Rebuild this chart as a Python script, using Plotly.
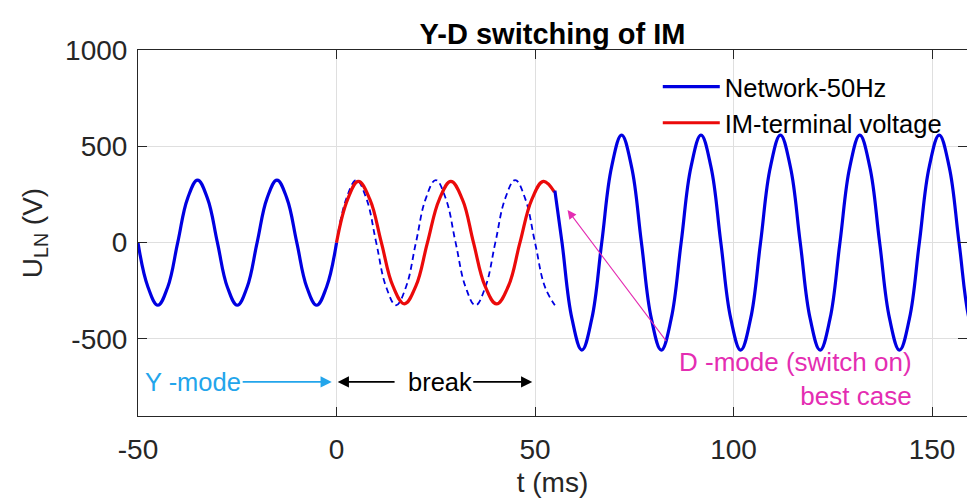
import plotly.graph_objects as go

# ---- data (t in ms, U in V) ----
t_pre = [-50, -47.5, -45, -42.5, -40, -37.5, -35, -32.5, -30, -27.5, -25, -22.5,
         -20, -17.5, -15, -12.5, -10, -7.5, -5, -2.5, 0]
u_pre = [0, -230, -325, -230, 0, 230, 325, 230, 0, -230, -325, -230,
         0, 230, 325, 230, 0, -230, -325, -230, 0]

t_net_dash = [0, 2.5, 5, 7.5, 10, 12.5, 15, 17.5, 20, 22.5, 25, 27.5, 30, 32.5,
              35, 37.5, 40, 42.5, 45, 47.5, 50, 52.5, 55]
u_net_dash = [0, 230, 325, 230, 0, -230, -325, -230, 0, 230, 325, 230, 0, -230,
              -325, -230, 0, 230, 325, 230, 0, -230, -325]

t_im = [0, 2.8, 5.5, 8.4, 11.3, 14.2, 17.1, 20.0, 22.9, 25.9, 28.8, 31.7, 34.5,
        37.4, 40.3, 43.3, 46.2, 49.2, 52.1, 54.9]
u_im = [0, 225, 318, 225, 0, -225, -318, -225, 0, 225, 318, 225, 0,
        -225, -318, -225, 0, 225, 318, 262]

t_post = [55, 56.8, 59.3, 61.8, 64.3, 66.8, 69.3, 71.8, 74.3, 76.8, 79.3, 81.8,
          84.3, 86.8, 89.3, 91.8, 94.3, 96.8, 99.3, 101.8, 104.3, 106.8, 109.3,
          111.8, 114.3, 116.8, 119.3, 121.8, 124.3, 126.8, 129.3, 131.8, 134.3,
          136.8, 139.3, 141.8, 144.3, 146.8, 149.3, 151.8, 154.3, 156.8, 159.3,
          161.8]
u_post = [270, 0, -395, -558, -395, 0, 395, 558, 395, 0, -395, -558,
          -395, 0, 395, 558, 395, 0, -395, -558, -395, 0, 395,
          558, 395, 0, -395, -558, -395, 0, 395, 558, 395,
          0, -395, -558, -395, 0, 395, 558, 395, 0, -395,
          -558]

x_ticks = [-50, 0, 50, 100, 150]
x_labels = ["-50", "0", "50", "100", "150"]
y_ticks = [-500, 0, 500, 1000]
y_labels = ["-500", "0", "500", "1000"]

BLUE = "rgb(0,0,225)"
RED = "rgb(235,10,10)"
CYAN = "rgb(35,165,235)"
MAGENTA = "rgb(228,45,178)"
AX = "#262626"
FONT = "Liberation Sans, Arial, Helvetica, sans-serif"
SM = 1.15

fig = go.Figure()
fig.add_trace(go.Scatter(x=t_net_dash, y=u_net_dash, mode="lines", showlegend=False,
                         line=dict(color=BLUE, width=1.8, dash="6px,4px",
                                   shape="spline", smoothing=SM)))
fig.add_trace(go.Scatter(x=t_pre, y=u_pre, mode="lines", name="Network-50Hz",
                         legendgroup="net",
                         line=dict(color=BLUE, width=3.2, shape="spline", smoothing=SM)))
fig.add_trace(go.Scatter(x=t_im, y=u_im, mode="lines", name="IM-terminal voltage",
                         line=dict(color=RED, width=3.2, shape="spline", smoothing=SM)))
fig.add_trace(go.Scatter(x=t_post, y=u_post, mode="lines", showlegend=False,
                         legendgroup="net",
                         line=dict(color=BLUE, width=3.2, shape="spline", smoothing=SM)))

ann = []
# Y-mode text with arrow
ann.append(dict(x=-1.2, y=-723, ax=-36.1, ay=-723, axref="x", ayref="y",
                text="Y -mode", showarrow=True, arrowhead=2, arrowsize=1.4,
                arrowwidth=1.6, arrowcolor=CYAN, standoff=0, startstandoff=0,
                font=dict(size=25.5, color=CYAN)))
# break text with right arrow
ann.append(dict(x=49.3, y=-723, ax=26.0, ay=-723, axref="x", ayref="y",
                text="break", showarrow=True, arrowhead=2, arrowsize=1.4,
                arrowwidth=1.6, arrowcolor="black", standoff=0, startstandoff=0,
                font=dict(size=25.5, color="black")))
# left arrow of break
ann.append(dict(x=0.3, y=-723, ax=15, ay=-723, axref="x", ayref="y", text="",
                showarrow=True, arrowhead=2, arrowsize=1.4, arrowwidth=1.6,
                arrowcolor="black"))
# D-mode
ann.append(dict(x=145.4, y=-708, text="D -mode (switch on)<br>best case", showarrow=False,
                xanchor="right", yanchor="middle", align="right",
                font=dict(size=26, color=MAGENTA)))
ann.append(dict(x=58.2, y=169, ax=83.3, ay=-518, axref="x", ayref="y", text="",
                showarrow=True, arrowhead=2, arrowsize=1.6, arrowwidth=1.1,
                arrowcolor=MAGENTA))

fig.update_layout(
    width=967, height=498,
    margin=dict(l=138, r=0, t=50, b=82),
    paper_bgcolor="white", plot_bgcolor="white",
    font=dict(family=FONT, size=28, color=AX),
    title=dict(text="<b>Y-D switching of IM</b>", x=0.5, xref="paper", xanchor="center",
               y=1 - 34 / 498, yref="container", yanchor="middle",
               font=dict(size=29, color="black")),
    legend=dict(x=0.627, y=0.963, xanchor="left", yanchor="top",
                bgcolor="rgba(0,0,0,0)", font=dict(size=25.5, color="black"),
                itemwidth=57, tracegroupgap=0),
    annotations=ann,
)
fig.update_xaxes(range=[-50, 158.8], tickvals=x_ticks, ticktext=x_labels,
                 ticks="inside", ticklen=9,
                 tickcolor=AX, showline=True, linecolor=AX, linewidth=1, mirror="ticks",
                 showgrid=True, gridcolor="#DFDFDF", gridwidth=1, zeroline=False,
                 tickfont=dict(size=28, color=AX), ticklabelstandoff=8,
                 title=dict(text="t (ms)", font=dict(size=28, color=AX), standoff=14))
fig.update_yaxes(range=[-900, 1000], tickvals=y_ticks, ticktext=y_labels,
                 ticks="inside", ticklen=9,
                 tickcolor=AX, showline=True, linecolor=AX, linewidth=1, mirror="ticks",
                 showgrid=True, gridcolor="#DFDFDF", gridwidth=1, zeroline=False,
                 tickfont=dict(size=28, color=AX), ticklabelstandoff=4,
                 title=dict(text="U<sub>LN</sub> (V)", font=dict(size=28, color=AX),
                            standoff=14))

fig.write_html("out.html")
